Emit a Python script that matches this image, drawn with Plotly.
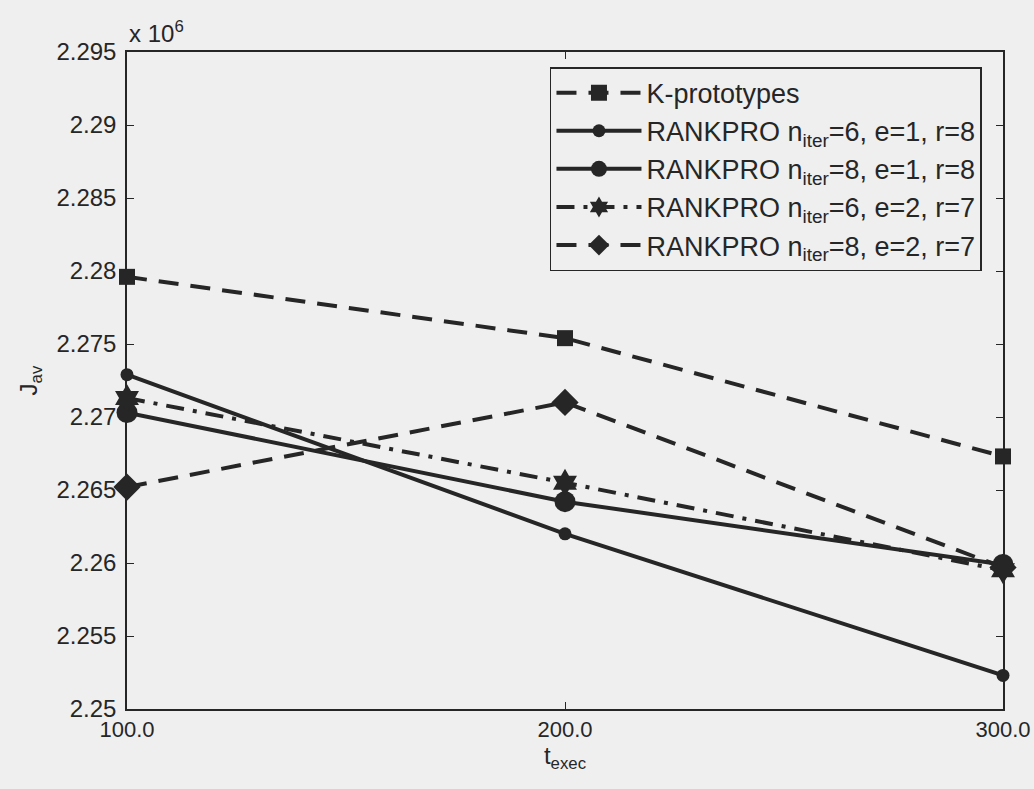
import plotly.graph_objects as go

# Execution time budgets
t_exec = [100, 200, 300]

# Average cost J_av for each method
kproto = [2279600, 2275400, 2267300]
rp_n6_e1_r8 = [2272900, 2262000, 2252300]
rp_n8_e1_r8 = [2270300, 2264200, 2259900]
rp_n6_e2_r7 = [2271300, 2265500, 2259500]
rp_n8_e2_r7 = [2265200, 2271000, 2259700]

y_ticks = [2250000 + 5000 * i for i in range(10)]
y_tick_text = ["2.25", "2.255", "2.26", "2.265", "2.27", "2.275", "2.28", "2.285", "2.29", "2.295"]
x_tick_text = ["100.0", "200.0", "300.0"]

INK = "#262626"
BG = "#efefef"
FONT = "Liberation Sans, Arial, sans-serif"
FS = 24
LEG_FS = 27

DASH = "20px,12px"
DASHDOT = "18px,9px,4px,9px"

series = [
    ("K-prototypes", kproto, DASH, "square", 16),
    ("RANKPRO n<sub>iter</sub>=6, e=1, r=8", rp_n6_e1_r8, "solid", "circle", 13),
    ("RANKPRO n<sub>iter</sub>=8, e=1, r=8", rp_n8_e1_r8, "solid", "circle", 21),
    ("RANKPRO n<sub>iter</sub>=6, e=2, r=7", rp_n6_e2_r7, DASHDOT, "hexagram", 21),
    ("RANKPRO n<sub>iter</sub>=8, e=2, r=7", rp_n8_e2_r7, DASH, "diamond", 21),
]

fig = go.Figure()
for i, (name, vals, dash, sym, size) in enumerate(series):
    fig.add_trace(go.Scatter(
        x=t_exec, y=vals, name=name, mode="lines+markers",
        legendgroup=f"g{i}", cliponaxis=False,
        line=dict(color=INK, width=4, dash=dash),
        marker=dict(symbol=sym, size=size, color=INK, line=dict(width=0)),
    ))

fig.update_layout(
    width=1034, height=789,
    margin=dict(l=127, r=31, t=52, b=80),
    paper_bgcolor=BG, plot_bgcolor=BG,
    font=dict(family=FONT, size=FS, color=INK),
    showlegend=True,
    legend=dict(
        x=0.976, y=0.977, xanchor="right", yanchor="top",
        bgcolor=BG, bordercolor=INK, borderwidth=1.5,
        font=dict(family=FONT, size=LEG_FS, color=INK),
        itemwidth=85, traceorder="grouped", tracegroupgap=0,
    ),
    xaxis=dict(
        range=[100, 300], tickvals=t_exec, ticktext=x_tick_text,
        showgrid=False, zeroline=False, showline=True, linecolor=INK, linewidth=1.5,
        mirror="ticks", ticks="inside", ticklen=7, tickcolor=INK,
        ticklabeloverflow="allow", automargin=False,
        tickfont=dict(size=22), title=dict(text="t<sub>exec</sub>", font=dict(size=FS), standoff=4),
    ),
    yaxis=dict(
        range=[2250000, 2295000], tickvals=y_ticks, ticktext=y_tick_text,
        showgrid=False, zeroline=False, showline=True, linecolor=INK, linewidth=1.5,
        mirror="ticks", ticks="inside", ticklen=7, tickcolor=INK, ticklabelstandoff=4,
        ticklabeloverflow="allow", automargin=False,
        tickfont=dict(size=FS), title=dict(text="J<sub>av</sub>", font=dict(size=FS), standoff=12),
    ),
    annotations=[dict(
        text="x 10<sup>6</sup>", xref="paper", yref="paper", x=0.0, y=1.0,
        xanchor="left", yanchor="bottom", showarrow=False, yshift=3,
        font=dict(family=FONT, size=FS, color=INK),
    )],
)

fig.write_html("out.html")
